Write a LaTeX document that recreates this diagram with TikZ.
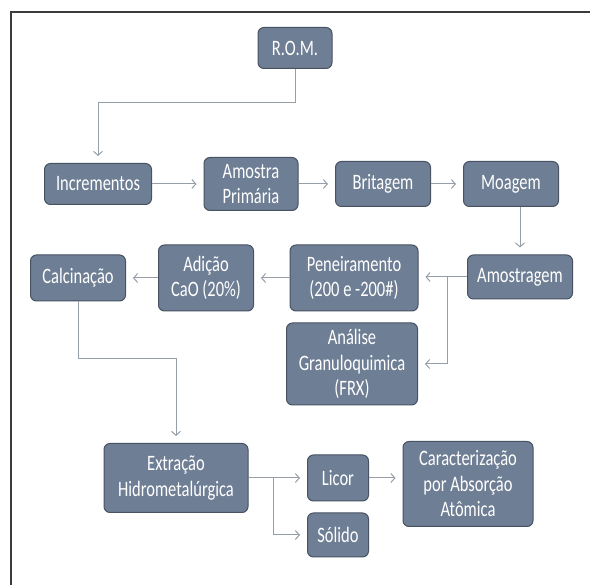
\documentclass[tikz,border=0pt]{standalone}
\usepackage{fontspec}
\setmainfont{Carlito}[FakeStretch=0.75]
\usetikzlibrary{arrows.meta}
\definecolor{boxfill}{RGB}{110,126,148}
\definecolor{boxline}{RGB}{72,82,98}
\definecolor{arrowgray}{RGB}{150,158,168}
\definecolor{framegray}{RGB}{60,60,60}
\tikzset{
  box/.style={draw=boxline, line width=1pt, fill=boxfill, rounded corners=6pt,
    text=white, align=center, inner sep=0pt,
    font=\fontsize{22}{25.5}\selectfont},
  arr/.style={-{Straight Barb[length=4pt,width=9pt]}, draw=arrowgray,
    line width=1pt, shorten >=7pt}
}
\begin{document}
\begin{tikzpicture}[x=1pt,y=-1pt]
  \useasboundingbox (0,0) rectangle (590,585);
  \draw[framegray, line width=2pt] (590,12) -- (11,12) -- (11,585);

  \node[box, minimum width=74pt, minimum height=41pt] (rom) at (295,48) {R.O.M.};
  \node[box, minimum width=107pt, minimum height=41pt] (inc) at (98,184) {Incrementos};
  \node[box, minimum width=94pt, minimum height=53pt] (amp) at (251,184) {Amostra\\Primária};
  \node[box, minimum width=95pt, minimum height=45pt] (brit) at (383,184) {Britagem};
  \node[box, minimum width=95pt, minimum height=45pt] (moa) at (511,184) {Moagem};
  \node[box, minimum width=105pt, minimum height=44pt] (amg) at (520,277) {Amostragem};
  \node[box, minimum width=128pt, minimum height=66pt] (pen) at (354,278) {Peneiramento\\(200 e -200\#)};
  \node[box, minimum width=95pt, minimum height=66pt] (adi) at (206,278) {Adição\\CaO (20\%)};
  \node[box, minimum width=95pt, minimum height=46pt] (cal) at (78,278) {Calcinação};
  \node[box, minimum width=131pt, minimum height=82pt] (ana) at (352,364) {Análise\\Granuloquimica\\(FRX)};
  \node[box, minimum width=144pt, minimum height=69pt] (ext) at (176,478) {Extração\\Hidrometalúrgica};
  \node[box, minimum width=61pt, minimum height=46pt] (lic) at (338,478) {Licor};
  \node[box, minimum width=61pt, minimum height=44pt] (sol) at (338,535) {Sólido};
  \node[box, minimum width=130pt, minimum height=85pt] (car) at (468,484) {Caracterização\\por Absorção\\Atômica};

  \draw[arr] (rom.south) -- ++(0,34) -| (inc.north);
  \draw[arr] (inc.east) -- (amp.west);
  \draw[arr] (amp.east) -- (brit.west);
  \draw[arr] (brit.east) -- (moa.west);
  \draw[arr] (moa.south -| amg.north) -- (amg.north);
  \draw[arr] (amg.west) -- (amg.west -| pen.east);
  \draw[arr] (amg.west) ++(-20,0) |- (ana.east);
  \draw[arr] (pen.west) -- (adi.east);
  \draw[arr] (adi.west) -- (cal.east);
  \draw[arr] (cal.south) -- ++(0,57) -| (ext.north);
  \draw[arr] (ext.east) -- (lic.west);
  \draw[arr] (ext.east) ++(25,0) |- (sol.west);
  \draw[arr] (lic.east) -- (lic.east -| car.west);
\end{tikzpicture}
\end{document}
